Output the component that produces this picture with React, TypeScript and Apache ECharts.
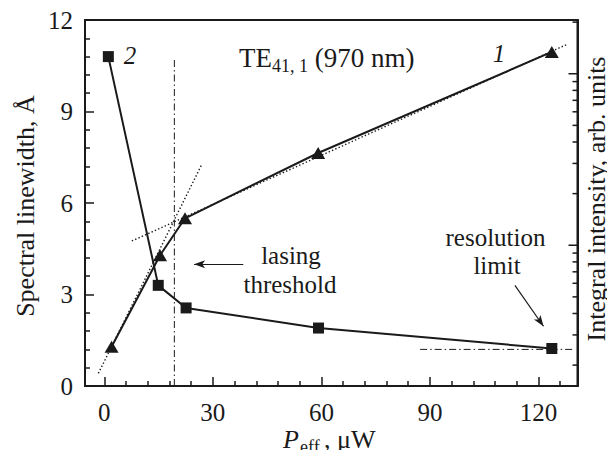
import React, { useEffect, useRef } from "react";
import * as echarts from "echarts";

// Curve 2: spectral linewidth (Å) versus effective pump power (µW)
const powerLinewidth = [1.1, 14.9, 22.6, 59.2, 123.7];
const linewidth = [10.8, 3.3, 2.56, 1.9, 1.23];

// Curve 1: integral intensity (arb. units, log scale) versus effective pump power
const powerIntensity = [2.0, 15.4, 22.3, 59.1, 123.7];
const intensity = [0.256, 0.875, 1.436, 3.45, 13.4];

// Dotted linear fits below and above threshold (on the intensity axis)
const fitBelowX = [-1.66, 26.9];
const fitBelowY = [0.179, 2.95];
const fitAboveX = [7.6, 127.8];
const fitAboveY = [1.059, 14.8];

// Threshold marker and resolution limit (dash-dot)
const thresholdPower = 19.35;
const thresholdTop = 10.78;
const resolutionLimit = 1.2;
const resolutionSpan = [87.3, 130.1];

// Annotation arrows [from, to] in data coordinates of the linewidth axis
const lasingArrow = [[38.4, 3.99], [24.8, 3.99]];
const resolutionArrow = [[113.5, 3.3], [121.4, 1.96]];

// Axis ticks
const xTickLabels = [0, 30, 60, 90, 120];
const xMinorTicks = [6, 12, 18, 24, 36, 42, 48, 54, 66, 72, 78, 84, 96, 102, 108, 114, 126];
const rightMajorTicks = [1, 10];
const rightMinorTicks = [0.2, 0.3, 0.4, 0.5, 0.6, 0.7, 0.8, 0.9, 2, 3, 4, 5, 6, 7, 8, 9, 20];

const INK = "#1a1a1a";
const FONT = "Liberation Serif";

export default function App() {
  const ref = useRef<HTMLDivElement>(null);

  useEffect(() => {
    if (!ref.current) return;
    const chart = echarts.init(ref.current, undefined, { renderer: "svg" });

    const text = (x: number, y: number, t: string, extra: any = {}) => ({
      type: "text",
      x,
      y,
      silent: true,
      style: {
        text: t,
        fill: INK,
        font: `${extra.italic ? "italic " : ""}${extra.size || 25}px "${FONT}"`,
        align: extra.align || "center",
        verticalAlign: "middle",
      },
      rotation: extra.rotation || 0,
    });

    const rightTickData = [
      ...rightMajorTicks.map((v) => [0, v, 9]),
      ...rightMinorTicks.map((v) => [0, v, 5]),
    ];

    const option: any = {
      animation: false,
      grid: {
        left: 85,
        right: 37.5,
        top: 20,
        bottom: 72,
        show: true,
        borderColor: INK,
        borderWidth: 2,
        backgroundColor: "transparent",
      },
      xAxis: [
        {
          type: "value",
          min: -5.35,
          max: 130.8,
          axisLine: { show: true, onZero: false, lineStyle: { color: INK, width: 2 } },
          axisTick: { show: true, inside: true, length: 9, customValues: xTickLabels, lineStyle: { color: INK, width: 1.5 } },
          axisLabel: {
            customValues: xTickLabels,
            color: INK,
            fontFamily: FONT,
            fontSize: 25,
            margin: 14,
          },
          splitLine: { show: false },
        },
        {
          type: "value",
          position: "bottom",
          min: -5.35,
          max: 130.8,
          axisLine: { show: false, onZero: false },
          axisTick: { show: true, inside: true, length: 5, customValues: xMinorTicks, lineStyle: { color: INK, width: 1.5 } },
          axisLabel: { show: false },
          splitLine: { show: false },
        },
      ],
      yAxis: [
        {
          type: "value",
          min: 0,
          max: 12,
          interval: 3,
          axisLine: { show: true, onZero: false, lineStyle: { color: INK, width: 2 } },
          axisTick: { show: true, inside: true, length: 9, lineStyle: { color: INK, width: 1.5 } },
          minorTick: { show: true, splitNumber: 5, length: 5, lineStyle: { color: INK, width: 1.5 } },
          axisLabel: { color: INK, fontFamily: FONT, fontSize: 25, margin: 12 },
          splitLine: { show: false },
        },
        {
          type: "log",
          logBase: 10,
          position: "right",
          min: 0.1511,
          max: 20.58,
          axisLine: { show: true, onZero: false, lineStyle: { color: INK, width: 2 } },
          axisTick: { show: false },
          axisLabel: { show: false },
          splitLine: { show: false },
        },
      ],
      series: [
        {
          type: "line",
          name: "linewidth",
          xAxisIndex: 0,
          yAxisIndex: 0,
          data: powerLinewidth.map((x, i) => [x, linewidth[i]]),
          symbol: "rect",
          symbolSize: 11,
          itemStyle: { color: INK },
          lineStyle: { color: INK, width: 2 },
          z: 5,
        },
        {
          type: "line",
          name: "intensity",
          xAxisIndex: 0,
          yAxisIndex: 1,
          data: powerIntensity.map((x, i) => [x, intensity[i]]),
          symbol: "triangle",
          symbolSize: [14, 12],
          itemStyle: { color: INK },
          lineStyle: { color: INK, width: 2 },
          z: 5,
        },
        {
          type: "line",
          xAxisIndex: 0,
          yAxisIndex: 1,
          data: fitBelowX.map((x, i) => [x, fitBelowY[i]]),
          symbol: "none",
          lineStyle: { color: INK, width: 1.4, type: [1.4, 2.2] },
          z: 3,
        },
        {
          type: "line",
          xAxisIndex: 0,
          yAxisIndex: 1,
          data: fitAboveX.map((x, i) => [x, fitAboveY[i]]),
          symbol: "none",
          lineStyle: { color: INK, width: 1.4, type: [1.4, 2.2] },
          z: 3,
        },
        {
          type: "line",
          xAxisIndex: 0,
          yAxisIndex: 0,
          data: [
            [thresholdPower, 0],
            [thresholdPower, thresholdTop],
          ],
          symbol: "none",
          lineStyle: { color: INK, width: 1, type: [7, 3, 1.5, 3] },
          z: 3,
          markLine: {
            silent: true,
            symbol: ["none", "arrow"],
            symbolSize: [6, 11],
            label: { show: false },
            lineStyle: { color: INK, width: 1.2, type: "solid" },
            data: [
              [{ coord: lasingArrow[0] }, { coord: lasingArrow[1] }],
              [{ coord: resolutionArrow[0] }, { coord: resolutionArrow[1] }],
            ],
          },
        },
        {
          type: "line",
          xAxisIndex: 0,
          yAxisIndex: 0,
          data: resolutionSpan.map((x) => [x, resolutionLimit]),
          symbol: "none",
          lineStyle: { color: INK, width: 1, type: [7, 3, 1.5, 3] },
          z: 3,
        },
        {
          // tick marks of the logarithmic intensity axis on the right
          type: "custom",
          xAxisIndex: 0,
          yAxisIndex: 1,
          silent: true,
          clip: false,
          data: rightTickData,
          encode: { x: 0, y: 1 },
          renderItem: (params: any, api: any) => {
            const p = api.coord([0, api.value(1)]);
            const cs = params.coordSys;
            const xr = cs.x + cs.width;
            return {
              type: "line",
              shape: { x1: xr, y1: p[1], x2: xr - api.value(2), y2: p[1] },
              style: { stroke: INK, lineWidth: 1.5 },
            };
          },
          z: 4,
        },
      ],
      graphic: [
        text(25, 206, "Spectral linewidth, Å", { rotation: Math.PI / 2, size: 26 }),
        text(596, 199, "Integral intensity, arb. units", { rotation: Math.PI / 2, size: 26 }),
        text(283, 439.5, "P", { italic: true, align: "left", size: 26 }),
        text(300, 446.5, "eff", { align: "left", size: 18 }),
        text(324, 439.5, ", μW", { align: "left", size: 26 }),
        {
          type: "text",
          x: 239,
          y: 58,
          silent: true,
          style: {
            text: "{m|TE}{s|41, 1}{m| (970 nm)}",
            fill: INK,
            align: "left",
            verticalAlign: "middle",
            rich: {
              m: { fontFamily: FONT, fontSize: 27, lineHeight: 34, verticalAlign: "middle", fill: INK },
              s: { fontFamily: FONT, fontSize: 18, lineHeight: 18, verticalAlign: "bottom", fill: INK },
            },
          },
        },
        text(130, 55, "2", { italic: true }),
        text(499, 53.6, "1", { italic: true }),
        text(291, 255, "lasing"),
        text(290, 284, "threshold"),
        text(495.5, 237.5, "resolution"),
        text(497, 265.5, "limit"),
      ],
    };

    chart.setOption(option);
    return () => chart.dispose();
  }, []);

  return <div ref={ref} style={{ width: 615, height: 458, margin: -8 }} />;
}
